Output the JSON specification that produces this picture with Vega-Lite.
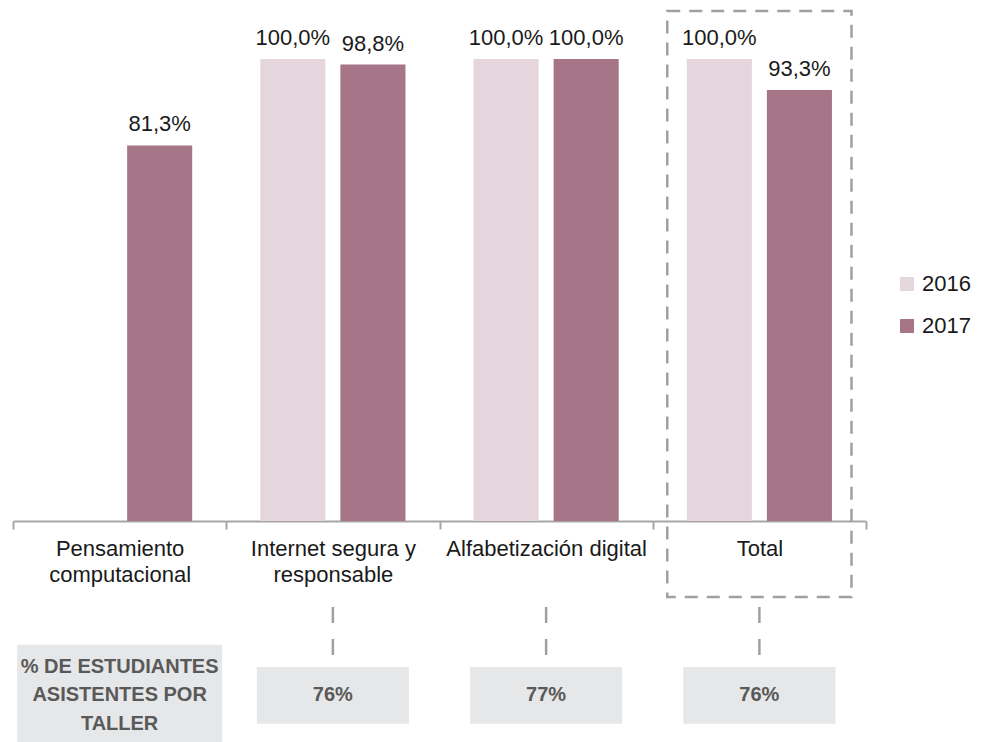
{
  "$schema": "https://vega.github.io/schema/vega-lite/v6.json",
  "width": 853,
  "height": 742,
  "autosize": {"type": "none"},
  "padding": {"left": 13, "top": 0, "right": 116, "bottom": 0},
  "config": {
    "view": {"stroke": null},
    "font": "Liberation Sans, Arial, sans-serif",
    "locale": {"number": {"decimal": ",", "thousands": ".", "grouping": [3], "currency": ["", " €"]}}
  },
  "data": {
    "values": [
      {"category": "Pensamiento computacional", "year": "2017", "value": 0.813},
      {"category": "Internet segura y responsable", "year": "2016", "value": 1.0},
      {"category": "Internet segura y responsable", "year": "2017", "value": 0.988},
      {"category": "Alfabetización digital", "year": "2016", "value": 1.0},
      {"category": "Alfabetización digital", "year": "2017", "value": 1.0},
      {"category": "Total", "year": "2016", "value": 1.0},
      {"category": "Total", "year": "2017", "value": 0.933}
    ]
  },
  "layer": [
    {
      "mark": {"type": "bar"},
      "encoding": {
        "x": {
          "field": "category", "type": "nominal",
          "scale": {"domain": ["Pensamiento computacional", "Internet segura y responsable", "Alfabetización digital", "Total"], "paddingInner": 0, "paddingOuter": 0},
          "axis": {
            "title": null, "orient": "bottom", "offset": -221, "tickBand": "extent",
            "domainColor": "#a6a6a6", "domainWidth": 2, "tickColor": "#a6a6a6", "tickWidth": 2, "tickSize": 8,
            "labelFontSize": 22, "labelColor": "#1a1a1a", "labelPadding": 9, "labelAngle": 0, "labelLimit": 0,
            "labelLineHeight": 26, "labelBaseline": "top",
            "labelExpr": "datum.value == 'Pensamiento computacional' ? ['Pensamiento', 'computacional'] : datum.value == 'Internet segura y responsable' ? ['Internet segura y', 'responsable'] : datum.value"
          }
        },
        "xOffset": {"field": "year", "type": "nominal", "scale": {"paddingInner": 0.1875, "paddingOuter": 0.425}},
        "y": {"field": "value", "type": "quantitative", "stack": null, "scale": {"domain": [-0.4784, 1.1277], "nice": false, "zero": false}, "axis": null},
        "color": {
          "field": "year", "type": "nominal",
          "scale": {"domain": ["2016", "2017"], "range": ["#e4d6dc", "#a67688"]},
          "legend": {"orient": "none", "legendX": 883, "legendY": 273, "title": null, "symbolType": "square", "symbolSize": 196, "symbolStrokeWidth": 0, "labelFontSize": 22, "labelColor": "#1a1a1a", "rowPadding": 20, "padding": 0, "labelOffset": 4}
        }
      }
    },
    {
      "mark": {"type": "text", "fontSize": 22, "color": "#1a1a1a", "baseline": "alphabetic", "dy": -14},
      "encoding": {
        "x": {"field": "category", "type": "nominal"},
        "xOffset": {"field": "year", "type": "nominal"},
        "y": {"field": "value", "type": "quantitative"},
        "text": {"field": "value", "type": "quantitative", "format": ".1%"}
      }
    },
    {
      "data": {"values": [{"category": "Total"}]},
      "mark": {"type": "bar", "width": {"band": 0.864}, "fill": "transparent", "stroke": "#a0a0a0", "strokeWidth": 2.5, "strokeDash": [13, 9]},
      "encoding": {
        "x": {"field": "category", "type": "nominal"},
        "y": {"datum": 1.104},
        "y2": {"datum": -0.1645}
      }
    },
    {
      "data": {"values": [{"category": "Internet segura y responsable"}, {"category": "Alfabetización digital"}, {"category": "Total"}]},
      "mark": {"type": "rule", "color": "#a0a0a0", "strokeWidth": 2.5, "strokeDash": [16, 16]},
      "encoding": {
        "x": {"field": "category", "type": "nominal"},
        "y": {"datum": -0.186},
        "y2": {"datum": -0.318}
      }
    },
    {
      "data": {"values": [{"category": "Internet segura y responsable", "pct": "76%"}, {"category": "Alfabetización digital", "pct": "77%"}, {"category": "Total", "pct": "76%"}]},
      "layer": [
        {
          "mark": {"type": "bar", "width": {"band": 0.713}, "color": "#e6e7e8"},
          "encoding": {
            "x": {"field": "category", "type": "nominal"},
            "y": {"datum": -0.316},
            "y2": {"datum": -0.439}
          }
        },
        {
          "mark": {"type": "text", "fontSize": 20, "fontWeight": "bold", "color": "#595959", "baseline": "middle"},
          "encoding": {
            "x": {"field": "category", "type": "nominal"},
            "y": {"datum": -0.377},
            "text": {"field": "pct"}
          }
        }
      ]
    },
    {
      "data": {"values": [{"category": "Pensamiento computacional", "label": "% DE ESTUDIANTES\nASISTENTES POR\nTALLER"}]},
      "layer": [
        {
          "mark": {"type": "bar", "width": {"band": 0.961}, "color": "#e6e7e8"},
          "encoding": {
            "x": {"field": "category", "type": "nominal"},
            "y": {"datum": -0.268},
            "y2": {"datum": -0.4784}
          }
        },
        {
          "mark": {"type": "text", "fontSize": 20, "fontWeight": "bold", "color": "#595959", "baseline": "middle", "lineBreak": "\n", "lineHeight": 28.5},
          "encoding": {
            "x": {"field": "category", "type": "nominal"},
            "y": {"datum": -0.316},
            "text": {"field": "label"}
          }
        }
      ]
    }
  ]
}
